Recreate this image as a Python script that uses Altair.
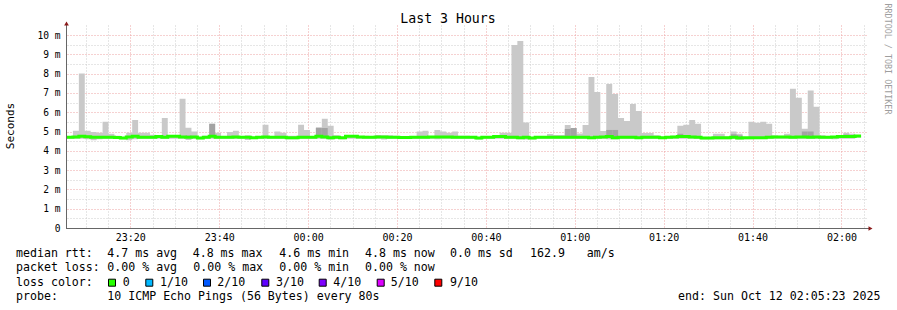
import altair as alt
import pandas as pd

# ---------------- data ----------------
# one value per 80 s step, starting at the left edge of the plot
hi = [4.72, 5.04, 8.00, 5.04, 4.98, 4.93, 5.50, 4.88, 4.78, 4.70,
      4.93, 5.60, 4.93, 4.93, 4.83, 4.75, 5.70, 4.80, 4.80, 6.70,
      5.20, 5.00, 4.70, 4.78, 5.40, 4.93, 4.70, 4.98, 5.04, 4.70,
      4.80, 4.70, 4.74, 5.35, 4.75, 5.00, 4.93, 4.78, 4.78, 5.35,
      5.08, 4.75, 5.20, 5.66, 5.30, 4.80, 4.70, 4.75, 4.75, 4.70,
      4.78, 4.74, 4.78, 4.80, 4.80, 4.78, 4.70, 4.70, 4.74, 5.00,
      5.04, 4.70, 5.08, 5.00, 4.93, 5.00, 4.78, 4.78, 4.77, 4.70,
      4.77, 4.77, 4.77, 4.94, 4.94, 9.48, 9.69, 5.46, 4.68, 4.77,
      4.77, 4.87, 4.82, 4.82, 5.34, 5.18, 4.90, 5.34, 7.82, 7.05,
      5.03, 7.46, 6.94, 5.70, 5.54, 6.42, 6.06, 4.92, 4.92, 4.80,
      4.73, 4.72, 4.78, 5.30, 5.35, 5.60, 5.40, 4.65, 4.65, 4.88,
      4.88, 4.74, 5.00, 4.88, 4.70, 5.50, 5.45, 5.50, 5.40, 4.80,
      4.78, 4.88, 7.22, 6.75, 5.14, 7.12, 6.28, 4.80, 4.74, 4.74,
      4.78, 4.93, 4.88, 4.75]

lo = [4.62, 4.62, 4.62, 4.60, 4.55, 4.60, 4.62, 4.62, 4.62, 4.60,
      4.55, 4.60, 4.62, 4.62, 4.62, 4.62, 4.62, 4.62, 4.62, 4.62,
      4.56, 4.62, 4.60, 4.62, 4.62, 4.62, 4.62, 4.62, 4.62, 4.62,
      4.56, 4.62, 4.62, 4.62, 4.62, 4.62, 4.62, 4.60, 4.60, 4.62,
      4.62, 4.62, 4.62, 4.62, 4.58, 4.62, 4.60, 4.62, 4.62, 4.62,
      4.62, 4.62, 4.62, 4.58, 4.62, 4.62, 4.62, 4.62, 4.62, 4.62,
      4.62, 4.62, 4.60, 4.62, 4.62, 4.62, 4.62, 4.62, 4.62, 4.58,
      4.62, 4.62, 4.62, 4.62, 4.62, 4.62, 4.60, 4.58, 4.60, 4.62,
      4.62, 4.62, 4.62, 4.62, 4.62, 4.62, 4.62, 4.62, 4.62, 4.62,
      4.62, 4.60, 4.60, 4.62, 4.62, 4.62, 4.62, 4.62, 4.62, 4.62,
      4.62, 4.62, 4.62, 4.62, 4.62, 4.62, 4.62, 4.60, 4.60, 4.60,
      4.60, 4.60, 4.62, 4.58, 4.60, 4.60, 4.62, 4.62, 4.62, 4.62,
      4.62, 4.62, 4.62, 4.62, 4.62, 4.62, 4.62, 4.62, 4.62, 4.60,
      4.62, 4.62, 4.62, 4.68]

med = [4.70, 4.72, 4.76, 4.73, 4.70, 4.70, 4.70, 4.70, 4.69, 4.66,
       4.72, 4.76, 4.70, 4.70, 4.70, 4.74, 4.70, 4.75, 4.75, 4.72,
       4.70, 4.72, 4.66, 4.70, 4.76, 4.70, 4.70, 4.70, 4.72, 4.70,
       4.70, 4.68, 4.70, 4.72, 4.70, 4.70, 4.70, 4.68, 4.68, 4.70,
       4.70, 4.70, 4.75, 4.72, 4.68, 4.70, 4.68, 4.76, 4.76, 4.71,
       4.70, 4.70, 4.71, 4.71, 4.70, 4.70, 4.69, 4.69, 4.70, 4.70,
       4.70, 4.71, 4.71, 4.71, 4.71, 4.70, 4.70, 4.70, 4.70, 4.66,
       4.70, 4.70, 4.74, 4.74, 4.70, 4.70, 4.68, 4.70, 4.66, 4.70,
       4.70, 4.70, 4.70, 4.70, 4.70, 4.70, 4.70, 4.70, 4.68, 4.70,
       4.72, 4.74, 4.68, 4.70, 4.70, 4.70, 4.68, 4.70, 4.70, 4.70,
       4.68, 4.70, 4.72, 4.74, 4.74, 4.72, 4.70, 4.66, 4.66, 4.68,
       4.68, 4.68, 4.70, 4.66, 4.68, 4.68, 4.68, 4.68, 4.70, 4.72,
       4.72, 4.72, 4.70, 4.72, 4.72, 4.70, 4.72, 4.70, 4.70, 4.72,
       4.74, 4.74, 4.74, 4.77]

# upper edge of the darker (dense) smoke, None where there is none
dark = [None] * len(hi)
dark_steps = [3, 20, 24, 42, 43, 52, 84, 85, 91, 92, 103, 112, 113, 124, 125, 131]
dark_vals = [4.79, 4.79, 5.40, 5.20, 5.18, 4.80, 5.13, 5.18, 5.08, 5.08,
             4.88, 4.86, 4.80, 5.00, 5.00, 4.84]
for s, v in zip(dark_steps, dark_vals):
    dark[s] = v

start_time = "2025-10-11 23:05:45"
end_time = "2025-10-12 02:05:45"
step_seconds = 80

# y tick values (every 0.5 ms) and x grid (every 5 min)
y_ticks = [i / 2 for i in range(0, 21)]
x_grid_start = "2025-10-11 23:10:00"
x_grid_end = "2025-10-12 02:05:00"

# legend texts
rtt_stats = ["4.7 ms avg", "4.8 ms max", "4.6 ms min", "4.8 ms now", "0.0 ms sd", "162.9", "am/s"]
loss_stats = ["0.00 % avg", "0.00 % max", "0.00 % min", "0.00 % now"]
loss_labels = ["0", "1/10", "2/10", "3/10", "4/10", "5/10", "9/10"]
loss_colors = ["#26ff00", "#00b8ff", "#0059ff", "#5e00ff", "#7e00ff", "#dd00ff", "#ff0000"]
probe_text = "10 ICMP Echo Pings (56 Bytes) every 80s"
end_text = "end: Sun Oct 12 02:05:23 2025"

# ---------------- build tables ----------------
t0 = pd.Timestamp(start_time, tz="UTC")
stepd = pd.Timedelta(seconds=step_seconds)
starts = [t0 + stepd * i for i in range(len(hi))]
ends = [s + stepd for s in starts]
fmt = "%Y-%m-%dT%H:%M:%SZ"

df = pd.DataFrame({
    "t": [s.strftime(fmt) for s in starts],
    "t2": [e.strftime(fmt) for e in ends],
    "lo": lo, "hi": hi, "med": med, "dark": dark,
})
df_dark = df[df["dark"].notna()]
# step series need one closing point at the end of the last step
df_step = pd.DataFrame({
    "t": [s.strftime(fmt) for s in starts] + [ends[-1].strftime(fmt)],
    "lo": lo + [lo[-1]],
    "hi": hi + [hi[-1]],
    "med": med + [med[-1]],
})

def ms(ts):
    return int(pd.Timestamp(ts, tz="UTC").value // 10**6)

x_domain = [ms(start_time), ms(end_time)]
x_grid = [int(v.value // 10**6) for v in pd.date_range(pd.Timestamp(x_grid_start, tz="UTC"),
                                                       pd.Timestamp(x_grid_end, tz="UTC"), freq="5min")]

W, H = 800, 203
FONT = "DejaVu Sans Mono"
RED_GRID = "#eca3a3"
GREY_GRID = "#cccccc"

x_axis = alt.Axis(
    values=x_grid, grid=True, gridDash=[1, 2], gridWidth=1,
    gridColor={"condition": {"test": "utcminutes(datum.value) % 20 === 0", "value": RED_GRID},
               "value": GREY_GRID},
    labelExpr="utcminutes(datum.value) % 20 === 0 ? utcFormat(datum.value, '%H:%M') : ''",
    labelFont=FONT, labelFontSize=10, labelColor="#000000", labelPadding=4,
    ticks=False, tickSize=0, domain=False, title=None,
    labelOverlap=False, labelFlush=False, labelBound=False,
)
y_axis = alt.Axis(
    values=y_ticks, grid=True, gridDash=[1, 2], gridWidth=1,
    gridColor={"condition": {"test": "datum.value % 1 === 0", "value": RED_GRID},
               "value": GREY_GRID},
    labelExpr="datum.value % 1 === 0 ? (datum.value === 0 ? '0' : datum.value + ' m') : ''",
    labelFont=FONT, labelFontSize=9.6, labelColor="#000000", labelPadding=7,
    ticks=False, tickSize=0, domain=False, title=None,
    labelOverlap=False, labelFlush=False, labelBound=False,
)

YS = alt.Scale(domain=[0, H / 19.3], nice=False, zero=True)
X = alt.X("t:T", scale=alt.Scale(type="utc", domain=x_domain), axis=x_axis)

smoke = alt.Chart(df_step).mark_area(color="#c9c9c9", opacity=1, interpolate="step-after").encode(
    x=X, y=alt.Y("lo:Q", scale=YS, axis=y_axis), y2="hi:Q")

smoke_dark = alt.Chart(df_dark).mark_rect(color="#a3a3a3", opacity=1).encode(
    x=X, x2="t2:T", y=alt.Y("med:Q", scale=YS, axis=y_axis), y2="dark:Q")

median_line = alt.Chart(df_step).mark_line(
    color=loss_colors[0], strokeWidth=3, interpolate="step-after").encode(
    x=X, y=alt.Y("med:Q", scale=YS, axis=y_axis))

one = pd.DataFrame({"a": [0]})

def txt(s, x, y, size=11.6, align="left", angle=0, color="#000000"):
    kw = dict(text=s, font=FONT, fontSize=size, align=align, baseline="middle", color=color)
    if angle:
        kw["angle"] = angle
    return alt.Chart(one).mark_text(**kw).encode(x=alt.value(x), y=alt.value(y))

layers = [smoke, smoke_dark, median_line]

# axis lines and arrows
layers.append(alt.Chart(one).mark_rule(color="#666666", strokeWidth=1).encode(
    x=alt.value(-0.5), y=alt.value(H + 0.5), y2=alt.value(-2)))
layers.append(alt.Chart(one).mark_rule(color="#666666", strokeWidth=1).encode(
    x=alt.value(-1), x2=alt.value(W + 2), y=alt.value(H + 0.5)))
layers.append(alt.Chart(one).mark_point(shape="triangle-up", filled=True, size=22,
                                        color="#8b1a1a", opacity=1).encode(
    x=alt.value(-0.5), y=alt.value(-1.5)))
layers.append(alt.Chart(one).mark_point(shape="triangle-right", filled=True, size=22,
                                        color="#8b1a1a", opacity=1).encode(
    x=alt.value(W + 3.5), y=alt.value(H + 0.5)))

# title, axis title, watermark
layers.append(txt("Last 3 Hours", 381, -6, size=13.2, align="center"))
layers.append(txt("Seconds", -56, 101, size=11, align="center", angle=270))
layers.append(txt("RRDTOOL / TOBI OETIKER", 821, 34, size=8.4, align="center", angle=90,
                  color="#9e9e9e"))

# legend rows
r1, r2, r3, r4 = 229.3, 243.3, 257.7, 271.7
layers.append(txt("median rtt:", -51, r1))
for s, x in zip(rtt_stats, [40.3, 125.7, 212.3, 298, 383, 463, 519.7]):
    layers.append(txt(s, x, r1))
layers.append(txt("packet loss:", -51, r2))
for s, x in zip(loss_stats, [40.3, 126.3, 212.3, 298]):
    layers.append(txt(s, x, r2))
layers.append(txt("loss color:", -51, r3))
for lab, col, bx, tx in zip(loss_labels, loss_colors,
                            [45, 82.3, 140, 198.3, 255.7, 313.7, 371.3],
                            [55.7, 93, 150.3, 209, 266.3, 323.7, 383]):
    layers.append(alt.Chart(one).mark_square(size=49, fill=col, stroke="#000000",
                                             strokeWidth=1, opacity=1).encode(
        x=alt.value(bx), y=alt.value(r3)))
    layers.append(txt(lab, tx, r3))
layers.append(txt("probe:", -51, r4))
layers.append(txt(probe_text, 40.3, r4))
layers.append(txt(end_text, 813.5, r4, align="right"))

chart = alt.layer(*layers).properties(
    width=W, height=H,
    autosize=alt.AutoSizeParams(type="none"),
    padding={"left": 67, "top": 25, "right": 30, "bottom": 82},
    background="#ffffff",
).configure_view(stroke=None)

chart.save("out.html", embed_options={"renderer": "svg", "actions": False})
